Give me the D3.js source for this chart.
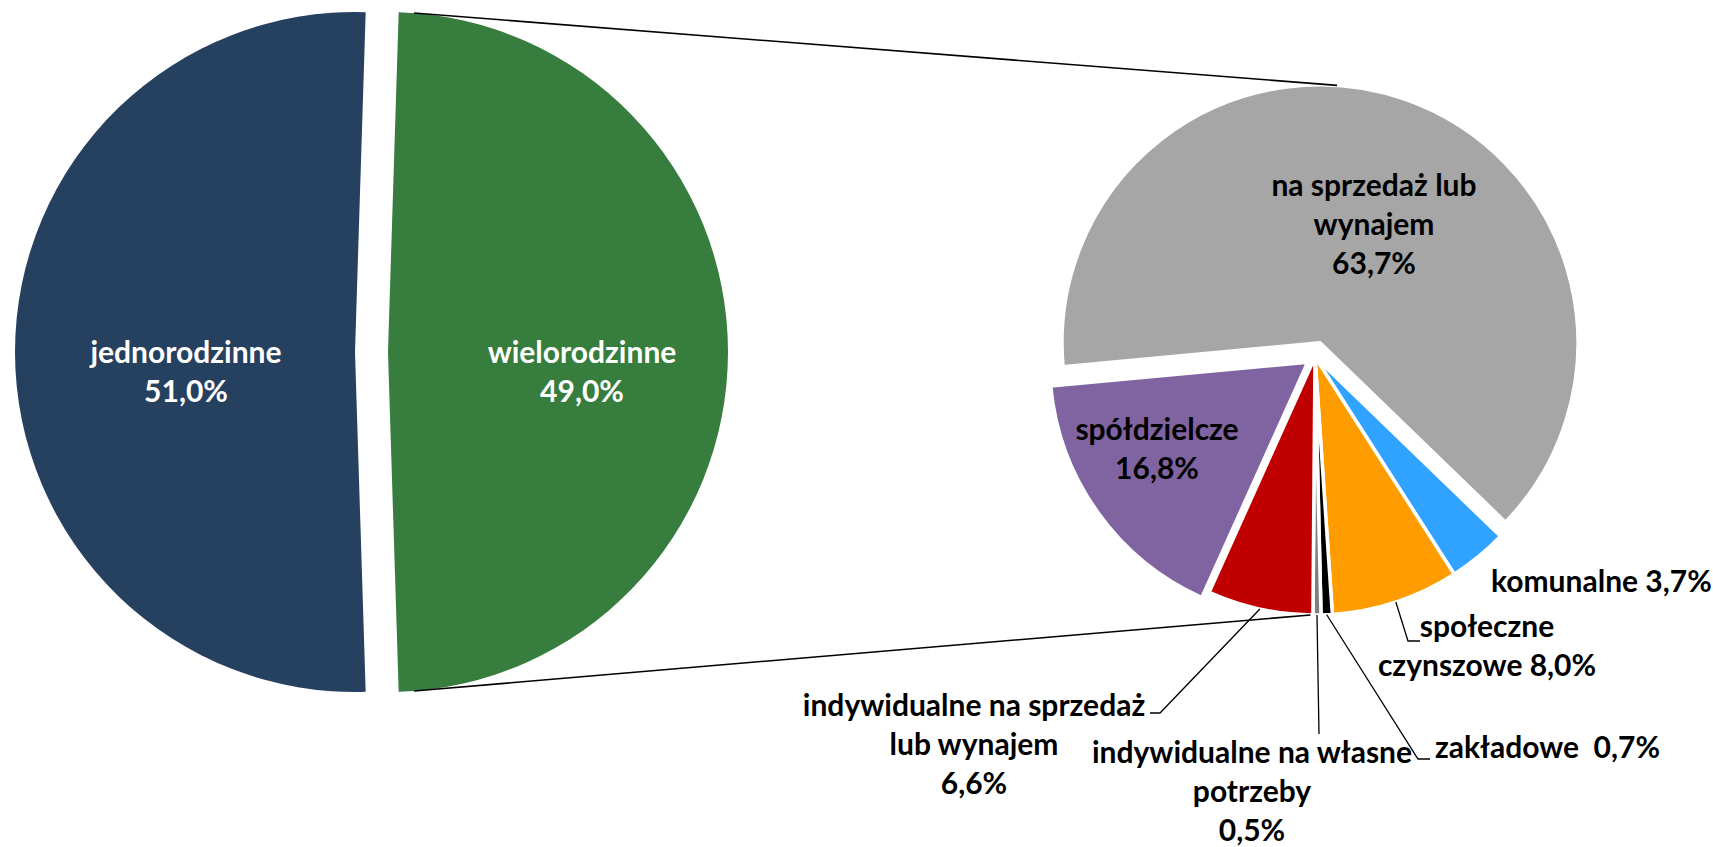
<!DOCTYPE html>
<html>
<head>
<meta charset="utf-8">
<script src="https://cdn.jsdelivr.net/npm/d3@7/dist/d3.min.js"></script>
<style>
  body { margin: 0; background: #fff; }
  svg { display: block; }
  text { font-family: Lato, "Open Sans", sans-serif; font-weight: bold; }
</style>
</head>
<body>
<svg id="chart" width="1713" height="847"></svg>
<script>
// data - main pie
const mainLabels = ["jednorodzinne", "wielorodzinne"];
const mainValues = [51.0, 49.0];
const mainColors = ["#264060", "#367d3e"];

// data - secondary pie (split of "wielorodzinne"), clockwise from the big grey slice
const subLabels = [
  "na sprzedaż lub\nwynajem",
  "komunalne",
  "społeczne\nczynszowe",
  "zakładowe",
  "indywidualne na własne\npotrzeby",
  "indywidualne na sprzedaż\nlub wynajem",
  "spółdzielcze"
];
const subValues = [63.7, 3.7, 8.0, 0.7, 0.5, 6.6, 16.8];
const subColors = ["#a6a6a6", "#2fa3ff", "#ff9c00", "#000000", "#7f7f7f", "#c00000", "#8064a2"];
// what goes between the name and the percentage
const subValueSep = ["\n", " ", " ", "  ", "\n", "\n", "\n"];

// layout
const width = 1713;
const height = 847;
const fontSize = 30;
const lineHeight = 39;

const main = { cx: 371.5, cy: 352, r: 340, explode: [16.5, 16.5] };
const sub = { cx: 1315, cy: 357, r: 258, rotation: -95.3, explode: [15, 0, 0, 0, 0, 0, 9] };

// first baseline of each label
const mainLabelPos = [[186, 363], [582, 363]];
const subLabelPos = [
  { x: 1374, y: 196, anchor: "middle" },
  { x: 1491, y: 592, anchor: "start" },
  { x: 1487, y: 637, anchor: "middle" },
  { x: 1435, y: 758, anchor: "start" },
  { x: 1252, y: 763, anchor: "middle" },
  { x: 974, y: 716, anchor: "middle" },
  { x: 1157, y: 440, anchor: "middle" }
];
// leader lines: points after the slice edge (null = no leader)
const subLeaders = [
  null,
  null,
  [[1408, 641], [1420, 641]],
  [[1418, 759], [1430, 759]],
  [[1319, 734]],
  [[1160, 713], [1150, 713]],
  null
];
// angles (deg) of the connector line ends on each pie
const connector = { mainTop: 4.4, mainBottom: 175.6, subTop: 3.8, subBottom: 181 };

const svg = d3.select("#chart");
const rad = d => d * Math.PI / 180;
const fmt = v => d3.format(".1f")(v).replace(".", ",") + "%";
const midAngle = a => (a.startAngle + a.endAngle) / 2;
const polar = (c, r, ang) => [c[0] + r * Math.sin(ang), c[1] - r * Math.cos(ang)];

// main pie: "jednorodzinne" centred on the left
const mainStart = 1.5 * Math.PI - Math.PI * mainValues[0] / 100;
const mainArcs = d3.pie().sort(null)
  .startAngle(mainStart).endAngle(mainStart + 2 * Math.PI)(mainValues);
const mainArc = d3.arc().innerRadius(0).outerRadius(main.r);
const mainApex = mainArcs.map((a, i) => polar([main.cx, main.cy], main.explode[i], midAngle(a)));

svg.append("g").selectAll("path")
  .data(mainArcs)
  .join("path")
    .attr("transform", (d, i) => "translate(" + mainApex[i] + ")")
    .attr("d", mainArc)
    .attr("fill", (d, i) => mainColors[i]);

// secondary pie
const subStart = rad(sub.rotation);
const subArcs = d3.pie().sort(null)
  .startAngle(subStart).endAngle(subStart + 2 * Math.PI)(subValues);
const subArc = d3.arc().innerRadius(0).outerRadius(sub.r);
const subApex = subArcs.map((a, i) => polar([sub.cx, sub.cy], sub.explode[i], midAngle(a)));

svg.append("g").selectAll("path")
  .data(subArcs)
  .join("path")
    .attr("transform", (d, i) => "translate(" + subApex[i] + ")")
    .attr("d", subArc)
    .attr("fill", (d, i) => subColors[i])
    .attr("stroke", "#fff")
    .attr("stroke-width", 3.5)
    .attr("stroke-linejoin", "round");

// connector lines between the pies
const line = d3.line();
const connectors = [
  [polar(mainApex[1], main.r, rad(connector.mainTop)), polar(subApex[0], sub.r, rad(connector.subTop))],
  [polar(mainApex[1], main.r, rad(connector.mainBottom)), polar([sub.cx, sub.cy], sub.r, rad(connector.subBottom))]
];
svg.append("g").selectAll("path")
  .data(connectors)
  .join("path")
    .attr("d", line)
    .attr("fill", "none")
    .attr("stroke", "#000")
    .attr("stroke-width", 1.6);

// leader lines
svg.append("g").selectAll("path")
  .data(subArcs.map((a, i) => subLeaders[i] ? [polar(subApex[i], sub.r, midAngle(a))].concat(subLeaders[i]) : null).filter(d => d))
  .join("path")
    .attr("d", line)
    .attr("fill", "none")
    .attr("stroke", "#000")
    .attr("stroke-width", 1.3);

// labels
function addLabel(lines, x, y, anchor, color) {
  const t = svg.append("text")
    .attr("x", x)
    .attr("y", y)
    .attr("text-anchor", anchor)
    .attr("fill", color)
    .style("font-size", fontSize + "px")
    .style("white-space", "pre");
  lines.forEach((s, k) => {
    t.append("tspan").attr("x", x).attr("y", y + k * lineHeight).text(s);
  });
}

mainLabels.forEach((name, i) => {
  addLabel([name, fmt(mainValues[i])], mainLabelPos[i][0], mainLabelPos[i][1], "middle", "#fff");
});
subLabels.forEach((name, i) => {
  const lines = (name + subValueSep[i] + fmt(subValues[i])).split("\n");
  const p = subLabelPos[i];
  addLabel(lines, p.x, p.y, p.anchor, "#000");
});
</script>
</body>
</html>
